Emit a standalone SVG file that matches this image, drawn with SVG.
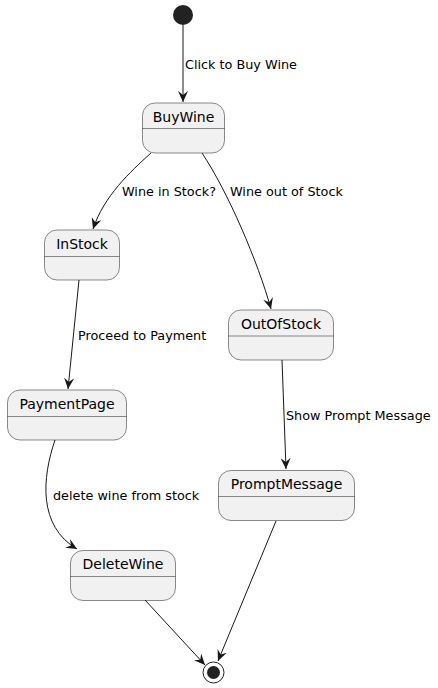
<svg xmlns="http://www.w3.org/2000/svg" width="438" height="688" viewBox="0 0 438 688">
<style>
.st rect{fill:#F1F1F1;stroke:#181818;stroke-width:0.5}
.st line{stroke:#181818;stroke-width:0.5}
.st text{font-family:"DejaVu Sans",sans-serif;font-size:14px;fill:#000;text-anchor:middle}
.lbl{font-family:"DejaVu Sans",sans-serif;font-size:12.8px;fill:#000}
#edges path{fill:none;stroke:#181818;stroke-width:1;marker-end:url(#arr)}
</style>
<defs>
<marker id="arr" viewBox="0 0 12 10" refX="11" refY="5" markerWidth="12" markerHeight="10" markerUnits="userSpaceOnUse" orient="auto">
<path d="M0,0 L11,5 L0,10 L4,5 Z" fill="#181818"/>
</marker>
</defs>
<rect width="438" height="688" fill="#FFFFFF"/>
<g id="start"><circle cx="183" cy="15" r="10" fill="#222222"/></g>
<g id="BuyWine" class="st"><rect x="142.5" y="103" width="82" height="50" rx="12.5"/><line x1="142.5" y1="128.5" x2="224.5" y2="128.5"/><text x="183.5" y="121.5">BuyWine</text></g>
<g id="InStock" class="st"><rect x="44.5" y="230" width="75" height="50" rx="12.5"/><line x1="44.5" y1="256.5" x2="119.5" y2="256.5"/><text x="82" y="248.5">InStock</text></g>
<g id="OutOfStock" class="st"><rect x="228.5" y="310" width="105" height="50" rx="12.5"/><line x1="228.5" y1="336" x2="333.5" y2="336"/><text x="281" y="328.5">OutOfStock</text></g>
<g id="PaymentPage" class="st"><rect x="7.5" y="390" width="119" height="50" rx="12.5"/><line x1="7.5" y1="416.5" x2="126.5" y2="416.5"/><text x="67" y="408.5">PaymentPage</text></g>
<g id="PromptMessage" class="st"><rect x="218.5" y="470.5" width="136" height="50" rx="12.5"/><line x1="218.5" y1="496.5" x2="354.5" y2="496.5"/><text x="286.5" y="489">PromptMessage</text></g>
<g id="DeleteWine" class="st"><rect x="70.5" y="550.5" width="105" height="50" rx="12.5"/><line x1="70.5" y1="576.5" x2="175.5" y2="576.5"/><text x="123" y="569">DeleteWine</text></g>
<g id="end"><circle cx="213.5" cy="672.5" r="10.5" fill="#FFFFFF" stroke="#222222" stroke-width="1"/><circle cx="213.5" cy="672.5" r="6.5" fill="#222222"/></g>
<g id="edges">
<path d="M183,25 L183,102"/>
<path d="M151,153 C130,172 104,196 93,229"/>
<path d="M202,153 C228,192 258,262 271,309"/>
<path d="M79,280 L68,389"/>
<path d="M282,360 L286,469"/>
<path d="M55,440 C42,478 38,526 77,549"/>
<path d="M145,600 L205,665"/>
<path d="M276,521 L218,661"/>
</g>
<g id="labels">
<text class="lbl" x="185" y="69">Click to Buy Wine</text>
<text class="lbl" x="122" y="196">Wine in Stock?</text>
<text class="lbl" x="230" y="196">Wine out of Stock</text>
<text class="lbl" x="78" y="340">Proceed to Payment</text>
<text class="lbl" x="286" y="420">Show Prompt Message</text>
<text class="lbl" x="53" y="500">delete wine from stock</text>
</g>
</svg>
